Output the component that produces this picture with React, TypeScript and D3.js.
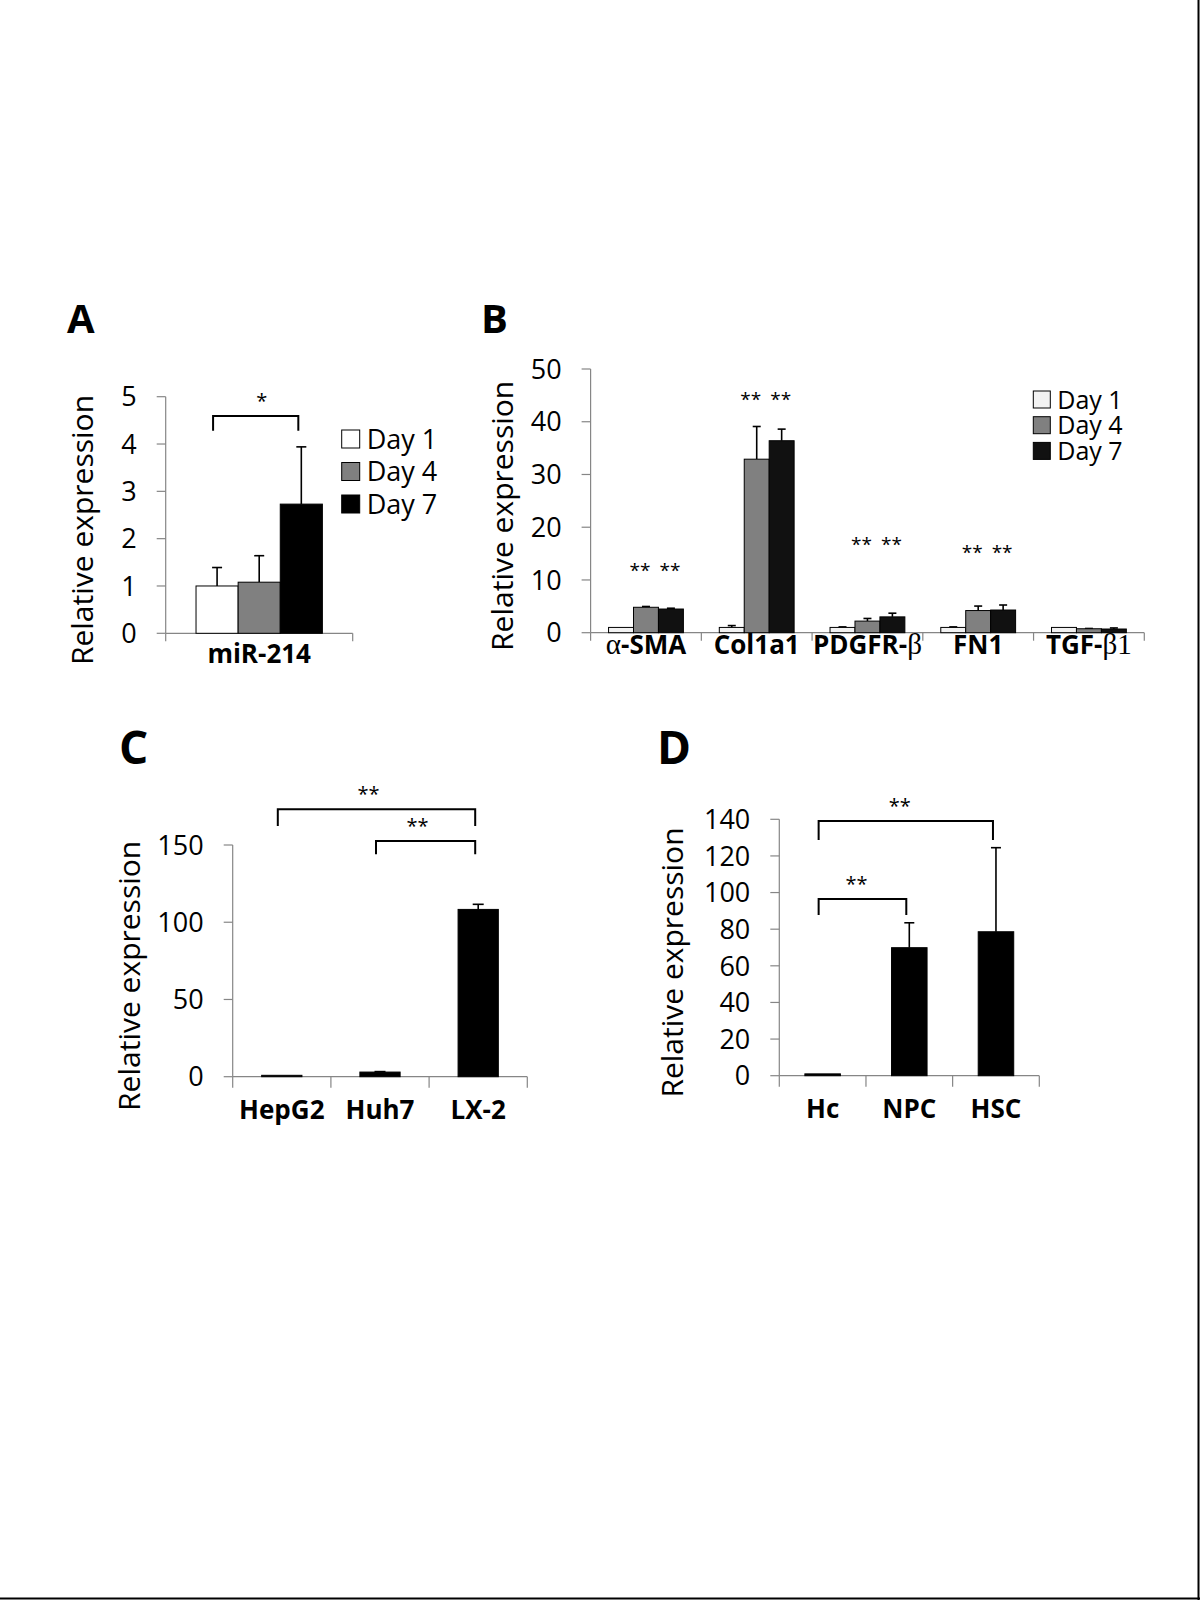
import React from "react"
import * as d3 from "d3"

const SANS = "'Open Sans', 'DejaVu Sans', sans-serif"
const SERIF = "'Liberation Serif', 'DejaVu Serif', serif"
const AXIS = "#868686"

const days = ["Day 1", "Day 4", "Day 7"]

// A: miR-214 over culture days
const genesA = ["miR-214"]
const meanA = [[1.0], [1.08], [2.73]]
const errA = [[0.39], [0.56], [1.21]]
const ticksA = [0, 1, 2, 3, 4, 5]

// B: fibrosis markers over culture days
const genesB = ["α-SMA", "Col1a1", "PDGFR-β", "FN1", "TGF-β1"]
const day1B = [1.0, 1.0, 1.0, 1.0, 1.0]
const day4B = [4.82, 32.9, 2.2, 4.2, 0.75]
const day7B = [4.49, 36.4, 3.0, 4.3, 0.7]
const day1ErrB = [0, 0.35, 0.1, 0.1, 0]
const day4ErrB = [0.15, 6.2, 0.5, 0.85, 0.05]
const day7ErrB = [0.15, 2.2, 0.7, 0.95, 0.2]
const starLevelB = [12.4, 44.9, 17.3, 15.8, null]
const ticksB = [0, 10, 20, 30, 40, 50]

// C: cell lines
const linesC = ["HepG2", "Huh7", "LX-2"]
const meanC = [0.9, 3.0, 108.3]
const errC = [0, 0.3, 3.3]
const ticksC = [0, 50, 100, 150]

// D: primary liver cells
const cellsD = ["Hc", "NPC", "HSC"]
const meanD = [1.0, 69.9, 78.6]
const errD = [0, 13.6, 45.9]
const ticksD = [0, 20, 40, 60, 80, 100, 120, 140]

type Bracket = { from: [number, number]; to: [number, number]; top: number; leg: number; label: string }

const bracketsA: Bracket[] = [{ from: [0, 0], to: [0, 2], top: 4.59, leg: 4.28, label: "*" }]
const bracketsC: Bracket[] = [
  { from: [0, 0], to: [2, 0], top: 173.1, leg: 162.3, label: "**" },
  { from: [1, 0], to: [2, 0], top: 152.6, leg: 144.0, label: "**" },
]
const bracketsD: Bracket[] = [
  { from: [0, 0], to: [2, 0], top: 139.1, leg: 128.7, label: "**" },
  { from: [0, 0], to: [1, 0], top: 96.5, leg: 87.8, label: "**" },
]

// greek letters (and trailing digits) go in the serif face, like the Symbol font in the figure
function label(s: string) {
  return s.split(/([αβ]\d*)/).filter(p => p).map((p, i) =>
    /^[αβ]/.test(p)
      ? <tspan key={i} fontFamily={SERIF} fontWeight="normal" fontSize="1.12em">{p}</tspan>
      : <tspan key={i}>{p}</tspan>
  )
}

type PanelProps = {
  letter: string
  letterX: number
  letterY: number
  letterSize: number
  x0: number
  x1: number
  yBottom: number
  yTop: number
  ticks: number[]
  categories: string[]
  series: number[][] // series[s][c]
  errors: number[][]
  fills: string[]
  titleX: number
  catLabelDy: number
  catLabelSize: number
  catTick: number
  capW: number
  starDx: number
  brackets?: Bracket[]
  stars?: (number | null)[]
  legend?: { x: number; y: number; box: number; step: number; size: number }
}

const Panel = (p: PanelProps) => {
  const y = d3.scaleLinear().domain([0, p.ticks[p.ticks.length - 1]]).range([p.yBottom, p.yTop])
  const x = d3.scaleBand<string>().domain(p.categories).range([p.x0, p.x1]).padding(0)
  const inner = d3
    .scaleBand<number>()
    .domain(d3.range(p.series.length))
    .range([0, x.bandwidth()])
    .paddingInner(0)
    .paddingOuter(0.72)
  const cx = (c: number, s: number) => (x(p.categories[c]) as number) + (inner(s) as number) + inner.bandwidth() / 2
  const bounds = p.categories.map(c => x(c) as number).concat([p.x1])

  return (
    <g>
      <text x={p.letterX} y={p.letterY} fontFamily={SANS} fontWeight="bold" fontSize={p.letterSize}>
        {p.letter}
      </text>

      {/* y axis */}
      <line x1={p.x0} x2={p.x0} y1={y(0)} y2={y.range()[1]} stroke={AXIS} strokeWidth={1.2} />
      {p.ticks.map(t => (
        <g key={t}>
          <line x1={p.x0 - 9} x2={p.x0} y1={y(t)} y2={y(t)} stroke={AXIS} strokeWidth={1.2} />
          <text x={p.x0 - 29} y={y(t)} dy="0.36em" textAnchor="end" fontFamily={SANS} fontSize={27}>
            {t}
          </text>
        </g>
      ))}
      <text
        transform={`translate(${p.titleX},${(p.yBottom + p.yTop) / 2 + 15}) rotate(-90)`}
        textAnchor="middle"
        fontFamily={SANS}
        fontSize={30}
      >
        Relative expression
      </text>

      {/* x axis */}
      <line x1={p.x0} x2={p.x1} y1={y(0)} y2={y(0)} stroke={AXIS} strokeWidth={1.2} />
      {bounds.map((b, i) => (
        <line key={i} x1={b} x2={b} y1={y(0)} y2={y(0) + p.catTick} stroke={AXIS} strokeWidth={1.2} />
      ))}
      {p.categories.map(c => (
        <text
          key={c}
          x={(x(c) as number) + x.bandwidth() / 2}
          y={y(0) + p.catLabelDy}
          textAnchor="middle"
          fontFamily={SANS}
          fontWeight="bold"
          fontSize={p.catLabelSize}
        >
          {label(c)}
        </text>
      ))}

      {/* bars + error bars */}
      {p.series.map((vals, s) =>
        vals.map((v, c) => {
          const left = (x(p.categories[c]) as number) + (inner(s) as number)
          const e = p.errors[s][c]
          const mid = cx(c, s)
          return (
            <g key={`${s}-${c}`}>
              {e > 0 && (
                <g stroke="#000" strokeWidth={1.6}>
                  <line x1={mid} x2={mid} y1={y(v)} y2={y(v + e)} />
                  <line x1={mid - p.capW / 2} x2={mid + p.capW / 2} y1={y(v + e)} y2={y(v + e)} />
                </g>
              )}
              <rect
                x={left}
                y={y(v)}
                width={inner.bandwidth()}
                height={y(0) - y(v)}
                fill={p.fills[s]}
                stroke="#000"
                strokeWidth={1}
              />
            </g>
          )
        })
      )}

      {/* significance over Day 4 and Day 7 */}
      {p.stars &&
        p.stars.map((lv, c) =>
          lv == null
            ? null
            : [1, 2].map(s => (
                <text
                  key={`${c}-${s}`}
                  x={cx(c, s) + (s === 1 ? -6 : -1)}
                  y={y(lv) + 10}
                  textAnchor="middle"
                  fontFamily={SANS}
                  fontSize={19}
                >
                  **
                </text>
              ))
        )}

      {/* brackets */}
      {(p.brackets || []).map((b, i) => {
        const xa = cx(b.from[0], b.from[1]) - 4
        const xb = cx(b.to[0], b.to[1]) - 3
        const path = d3.path()
        path.moveTo(xa, y(b.leg))
        path.lineTo(xa, y(b.top))
        path.lineTo(xb, y(b.top))
        path.lineTo(xb, y(b.leg))
        return (
          <g key={i}>
            <path d={path.toString()} fill="none" stroke="#000" strokeWidth={2} />
            <text
              x={(xa + xb) / 2 + p.starDx}
              y={y(b.top) - 8}
              textAnchor="middle"
              fontFamily={SANS}
              fontSize={20}
            >
              {b.label}
            </text>
          </g>
        )
      })}

      {/* legend */}
      {p.legend &&
        days.map((d, i) => (
          <g key={d}>
            <rect
              x={p.legend!.x}
              y={p.legend!.y + i * p.legend!.step}
              width={p.legend!.box}
              height={p.legend!.box}
              fill={p.fills[i]}
              stroke="#000"
              strokeWidth={1}
            />
            <text
              x={p.legend!.x + p.legend!.box + 7}
              y={p.legend!.y + i * p.legend!.step + p.legend!.box / 2}
              dy="0.36em"
              fontFamily={SANS}
              fontSize={p.legend!.size}
            >
              {d}
            </text>
          </g>
        ))}
    </g>
  )
}

const App = () => {
  return (
    <svg
      width={1200}
      height={1600}
      style={{ position: "absolute", left: 0, top: 0, background: "#fff" }}
    >
      <rect width={1200} height={1600} fill="#fff" />

      <Panel
        letter="A"
        letterX={67}
        letterY={333}
        letterSize={40}
        x0={165.7}
        x1={352.7}
        yBottom={633.3}
        yTop={396.7}
        ticks={ticksA}
        categories={genesA}
        series={meanA}
        errors={errA}
        fills={["#ffffff", "#808080", "#000000"]}
        titleX={93}
        catLabelDy={30}
        catLabelSize={26}
        catTick={8}
        capW={10}
        starDx={6}
        brackets={bracketsA}
        legend={{ x: 341.7, y: 430, box: 18, step: 32.5, size: 27 }}
      />

      <Panel
        letter="B"
        letterX={481}
        letterY={333}
        letterSize={40}
        x0={590.6}
        x1={1144.3}
        yBottom={632.7}
        yTop={369}
        ticks={ticksB}
        categories={genesB}
        series={[day1B, day4B, day7B]}
        errors={[day1ErrB, day4ErrB, day7ErrB]}
        fills={["#f2f2f2", "#808080", "#111111"]}
        titleX={513}
        catLabelDy={21}
        catLabelSize={26}
        catTick={8}
        capW={8}
        starDx={0}
        stars={starLevelB}
        legend={{ x: 1033.3, y: 391, box: 17, step: 25.7, size: 25 }}
      />

      <Panel
        letter="C"
        letterX={119}
        letterY={764}
        letterSize={46}
        x0={232.7}
        x1={527.3}
        yBottom={1076.7}
        yTop={845}
        ticks={ticksC}
        categories={linesC}
        series={[meanC]}
        errors={[errC]}
        fills={["#000000"]}
        titleX={140}
        catLabelDy={42}
        catLabelSize={26}
        catTick={11}
        capW={11}
        starDx={-8}
        brackets={bracketsC}
      />

      <Panel
        letter="D"
        letterX={657}
        letterY={764}
        letterSize={46}
        x0={779.3}
        x1={1039.3}
        yBottom={1075.7}
        yTop={819.3}
        ticks={ticksD}
        categories={cellsD}
        series={[meanD]}
        errors={[errD]}
        fills={["#000000"]}
        titleX={683}
        catLabelDy={42}
        catLabelSize={26}
        catTick={11}
        capW={10}
        starDx={-6}
        brackets={bracketsD}
      />

      {/* frame edges */}
      <line x1={1198.5} x2={1198.5} y1={0} y2={1600} stroke="#000" strokeWidth={2} />
      <line x1={0} x2={1200} y1={1598.5} y2={1598.5} stroke="#000" strokeWidth={2} />
    </svg>
  )
}

export default App
